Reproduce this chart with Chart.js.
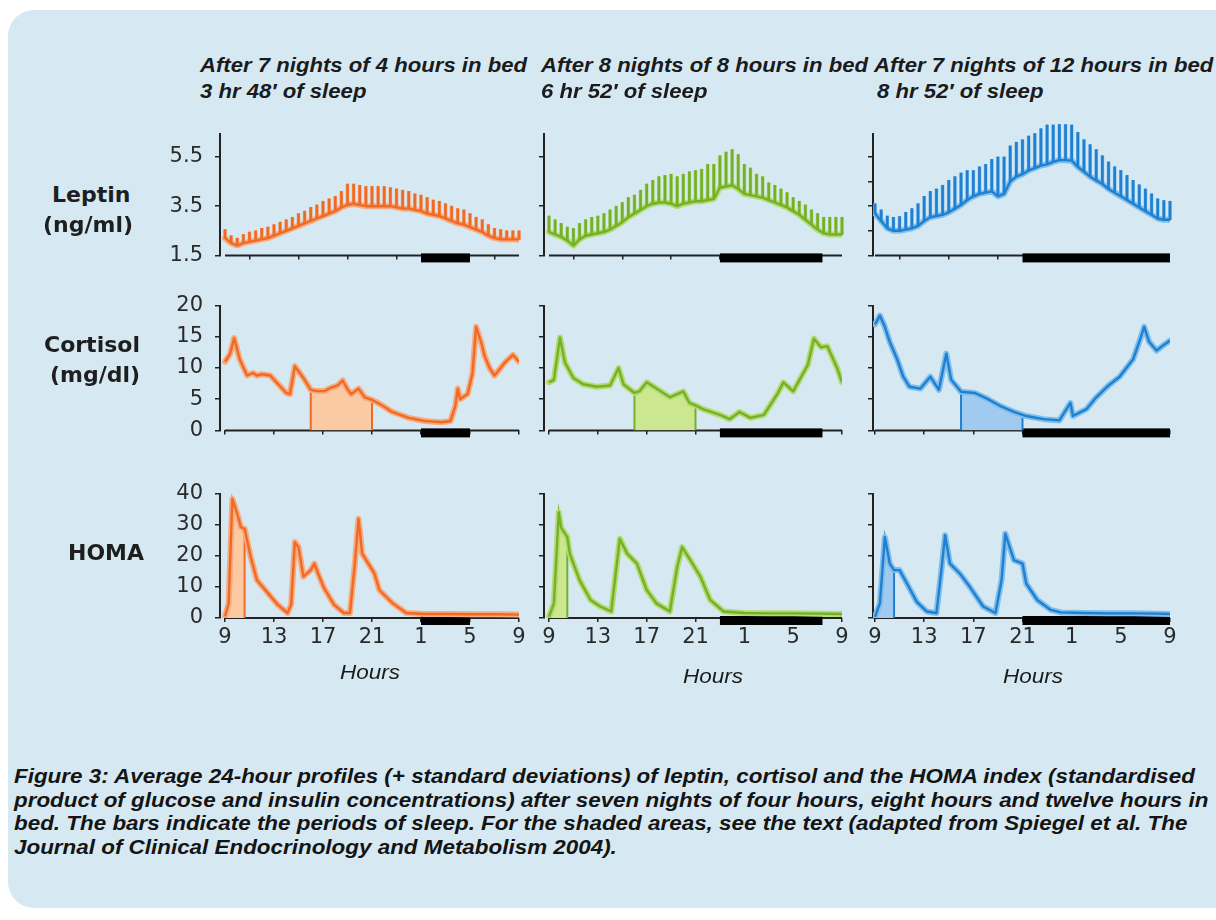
<!DOCTYPE html>
<html><head><meta charset="utf-8">
<script src="https://cdn.jsdelivr.net/npm/chart.js@4.4.1/dist/chart.umd.min.js"></script>
<style>
html,body{margin:0;padding:0;background:#fff;width:1216px;height:920px;overflow:hidden;position:relative;}
#panel{position:absolute;left:8px;top:10px;width:1250px;height:898px;background:#d6e9f3;border-radius:26px;}
canvas.cv{position:absolute;}
.txt{position:absolute;white-space:nowrap;color:#1b1b1b;transform-origin:0 0;}
.title{font-family:"Liberation Sans",Arial,sans-serif;font-style:italic;font-weight:bold;font-size:21px;}
.row{font-family:"DejaVu Sans",sans-serif;font-weight:bold;font-size:22px;color:#1e1e1e;}
.hours{font-family:"Liberation Sans",Arial,sans-serif;font-style:italic;font-size:20px;}
.cap{font-family:"Liberation Sans",Arial,sans-serif;font-style:italic;font-weight:bold;font-size:19.5px;color:#141414;}
</style></head><body>
<div id="panel"></div>
<script>
// ---------- DATA ----------
const HOUR_TICKS = [0, 4, 8, 12, 16, 20, 24];
const HOUR_LABELS = ['9', '13', '17', '21', '1', '5', '9'];
const LEPTIN_TICKS_2 = [1.5, 3.5, 5.5];
const LEPTIN_TICKS_1 = [1.5, 2.5, 3.5, 4.5, 5.5];
const CORTISOL_TICKS = [0, 5, 10, 15, 20];
const HOMA_TICKS = [0, 10, 20, 30, 40];

const LEPTIN_T = [0,0.5,1,1.5,2,2.5,3,3.5,4,4.5,5,5.5,6,6.5,7,7.5,8,8.5,9,9.5,10,10.5,11,11.5,12,12.5,13,13.5,14,14.5,15,15.5,16,16.5,17,17.5,18,18.5,19,19.5,20,20.5,21,21.5,22,22.5,23,23.5,24];
const LEPTIN_4H = [2.2,2.0,1.9,2.0,2.05,2.1,2.15,2.2,2.3,2.4,2.5,2.6,2.7,2.8,2.9,3.0,3.1,3.2,3.3,3.45,3.55,3.6,3.55,3.5,3.5,3.5,3.5,3.5,3.45,3.4,3.4,3.35,3.3,3.2,3.15,3.1,3.0,2.9,2.8,2.75,2.65,2.55,2.45,2.3,2.2,2.15,2.15,2.15,2.15];
const LEPTIN_4H_SD = [.35,.3,.3,.35,.4,.4,.45,.45,.45,.45,.45,.45,.5,.5,.55,.55,.6,.6,.6,.65,.85,.8,.8,.8,.8,.8,.8,.75,.75,.75,.7,.65,.65,.65,.6,.6,.6,.6,.6,.6,.55,.5,.5,.45,.4,.4,.35,.35,.35];
const LEPTIN_8H = [2.45,2.35,2.25,2.1,1.9,2.15,2.3,2.35,2.4,2.45,2.55,2.7,2.85,3.05,3.2,3.35,3.5,3.6,3.65,3.65,3.6,3.5,3.6,3.65,3.7,3.7,3.75,3.8,4.25,4.3,4.35,4.2,4.0,3.95,3.9,3.85,3.75,3.65,3.55,3.45,3.3,3.15,2.95,2.75,2.55,2.4,2.35,2.35,2.35];
const LEPTIN_8H_SD = [.65,.6,.55,.55,.7,.65,.65,.7,.7,.75,.8,.8,.8,.8,.75,.8,.9,.95,1.05,1.1,1.2,1.2,1.2,1.25,1.25,1.3,1.45,1.4,1.3,1.4,1.45,1.4,1.2,1.1,.9,.85,.7,.7,.65,.6,.55,.55,.6,.6,.65,.65,.7,.7,.7];
const LEPTIN_12H = [3.2,2.9,2.6,2.5,2.5,2.55,2.6,2.7,2.9,3.05,3.1,3.15,3.25,3.4,3.55,3.75,3.9,4.0,4.05,4.1,3.9,4.0,4.5,4.7,4.8,4.95,5.05,5.15,5.2,5.3,5.37,5.37,5.35,5.1,4.9,4.7,4.55,4.4,4.2,4.05,3.9,3.75,3.6,3.45,3.3,3.15,3.0,2.95,2.95];
const LEPTIN_12H_SD = [.4,.45,.5,.55,.58,.7,.8,.9,1.0,1.05,1.1,1.2,1.3,1.3,1.3,1.2,1.05,1.1,1.15,1.3,1.6,1.5,1.45,1.4,1.4,1.4,1.4,1.5,1.6,1.5,1.45,1.45,1.45,1.4,1.3,1.3,1.25,1.15,1.1,1.05,1.05,1.0,.95,.92,.9,.85,.8,.78,.75];

const CORT_4H_T = [0,0.4,0.75,1.2,1.8,2.3,2.6,3.0,3.7,4.2,5.0,5.3,5.7,6.4,7.0,7.5,8.1,8.6,9.2,9.6,10.0,10.3,10.9,11.4,12.0,12.3,13.0,13.6,14.3,15.0,16.3,17.0,17.7,18.4,18.8,19.0,19.2,19.4,19.8,20.2,20.5,20.9,21.2,21.6,22.0,22.5,22.9,23.5,24.0];
const CORT_4H = [11.0,12.2,14.8,11.4,8.8,9.2,8.8,9.0,8.8,7.7,6.0,5.8,10.3,8.4,6.5,6.3,6.3,6.8,7.2,8.0,6.6,5.8,6.7,5.3,4.9,4.6,3.8,3.0,2.5,2.0,1.5,1.4,1.3,1.5,3.9,6.7,5.0,5.3,5.8,9.1,16.6,14.2,11.9,10.0,8.8,10.0,11.0,12.1,11.0];
const CORT_8H_T = [0,0.4,0.9,1.3,2.0,2.8,3.9,5.0,5.7,6.1,7.0,7.4,8.0,8.8,9.9,11.0,11.5,12.0,12.6,14.0,14.8,15.6,16.5,17.6,18.7,19.2,20.0,21.2,21.7,22.3,22.8,23.6,24.0];
const CORT_8H = [7.7,8.1,14.9,10.9,8.4,7.4,7.0,7.2,10.0,7.4,6.0,6.25,7.7,6.7,5.3,6.25,4.4,4.0,3.4,2.5,1.8,2.96,2.0,2.5,5.8,7.7,6.25,10.5,14.7,13.3,13.5,10.0,7.7];
const CORT_12H_T = [0,0.4,0.8,1.2,1.8,2.3,2.8,3.7,4.5,5.2,5.8,6.2,7.0,8.1,9.1,10.2,11.3,12.0,12.3,13.7,15.0,15.9,16.1,17.2,18.0,19.0,19.9,21.0,21.5,21.9,22.3,22.9,23.5,24.0];
const CORT_12H = [17.0,18.4,16.6,14.2,11.4,8.6,7.0,6.7,8.6,6.5,12.3,8.1,6.2,6.0,5.1,3.9,2.96,2.5,2.3,1.8,1.6,4.4,2.3,3.4,5.3,7.2,8.6,11.4,14.2,16.6,14.2,12.8,13.7,14.4];

const HOMA_4H_T = [0,0.3,0.6,1.0,1.3,1.6,2.1,2.6,3.5,4.3,5.1,5.4,5.7,6.0,6.4,7.0,7.3,7.6,8.1,8.9,9.7,10.2,10.6,10.9,11.2,12.2,12.6,13.7,14.8,16.3,18,20,22,24];
const HOMA_4H = [0.5,4.7,38.3,33.5,29.2,28.7,19.6,12.2,8.0,4.3,1.6,4.3,24.4,22.8,13.3,15.4,17.5,14.3,9.5,4.3,1.6,1.6,17.5,31.9,20.7,14.3,9.0,4.7,1.6,1.3,1.3,1.2,1.2,1.1];
const HOMA_8H_T = [0,0.4,0.8,1.0,1.5,1.7,2.5,3.4,4.2,5.1,5.4,5.8,6.4,7.2,8.0,8.8,9.9,10.5,10.9,11.5,12.4,13.2,14.3,16,18,20,22,24];
const HOMA_8H = [0.4,4.7,34,29,26,20.7,12.2,5.8,3.7,2.1,12.2,25.5,20.7,17.5,9.0,4.7,2.1,16.4,22.8,19.1,13.3,5.8,2.1,1.6,1.5,1.5,1.4,1.3];
const HOMA_12H_T = [0,0.4,0.8,1.2,1.55,2.0,2.6,3.4,4.2,5.0,5.4,5.7,6.1,6.9,7.7,8.8,9.8,10.3,10.6,11.3,12.0,12.3,13.2,14.3,15.1,17,19,21,23,24];
const HOMA_12H = [0.4,4.7,26,17.5,15.4,15.4,11.1,5.2,2.1,1.6,15.4,26.6,17.5,14.3,10.1,3.7,1.6,12.2,27.1,18.6,17.5,11.1,5.8,2.6,1.8,1.6,1.5,1.5,1.4,1.3];

const SLEEP_4H = [16, 20];
const SLEEP_8H = [14, 22.4];
const SLEEP_12H = [12, 24];
const CORT_SHADE = [7, 12];
const HOMA_SHADE_4H = [0, 1.6];
const HOMA_SHADE_8H = [0, 1.5];
const HOMA_SHADE_12H = [0, 1.55];

// ---------- STYLE / LAYOUT ----------
const COLORS = [
  {main:'#ef6a24', halo:'#f7ab80', fill:'#fbcaa2'},
  {main:'#74b02e', halo:'#b4dc6c', fill:'#cbe790'},
  {main:'#1f7fd0', halo:'#80bfec', fill:'#a0caef'}
];
const COLS = [
  {axis:220, x0:225, x24:519},
  {axis:544, x0:549, x24:842},
  {axis:873, x0:875, x24:1170}
];
const ROWS = [
  {top:133, bottom:266, min:1.5, max:6.45},
  {top:305, bottom:441, min:0, max:20},
  {top:493, bottom:618, min:0, max:40}
];

Chart.defaults.font.family = '"DejaVu Sans", sans-serif';

const axisPlugin = {
  id: 'axisSleep',
  beforeDatasetsDraw(chart, args, opts) {
    const {ctx, chartArea, scales} = chart;
    const x = scales.x, b = chartArea.bottom;
    ctx.save();
    ctx.strokeStyle = '#222'; ctx.lineWidth = 2;
    ctx.beginPath(); ctx.moveTo(x.getPixelForValue(0), b); ctx.lineTo(x.getPixelForValue(24), b); ctx.stroke();
    ctx.fillStyle = '#000';
    const x1 = x.getPixelForValue(opts.range[0]), x2 = x.getPixelForValue(opts.range[1]);
    ctx.fillRect(x1, b - 2, x2 - x1, 9);
    ctx.restore();
  }
};

function lineSets(T, V, c) {
  const pts = T.map((t, i) => ({x: t, y: V[i]}));
  return [
    {type:'line', data:pts, borderColor:c.halo, borderWidth:6, pointRadius:0, tension:0, order:5, borderJoinStyle:'round', borderCapStyle:'round'},
    {type:'line', data:pts, borderColor:c.main, borderWidth:2.4, pointRadius:0, tension:0, order:1, borderJoinStyle:'round'}
  ];
}
function sdSets(T, M, SD, c) {
  const pts = T.map((t, i) => ({x: t, y: [M[i], M[i] + SD[i]]}));
  return [
    {type:'bar', data:pts, backgroundColor:c.halo, barThickness:3, grouped:false, order:4, clip:false},
    {type:'bar', data:pts, backgroundColor:c.main, barThickness:2, grouped:false, order:2, clip:false}
  ];
}
function shadeSet(T, V, range, c) {
  const [a, b] = range;
  const pts = [{x: a, y: 0}];
  T.forEach((t, i) => { if (t >= a && t <= b) pts.push({x: t, y: V[i]}); });
  pts.push({x: b, y: 0});
  return {type:'line', data:pts, borderColor:c.main, borderWidth:2, backgroundColor:c.fill, fill:'origin', pointRadius:0, tension:0, order:6};
}

function makeChart(col, row, datasets, sleep, yTicks) {
  const C = COLS[col], R = ROWS[row];
  const pxPerH = (C.x24 - C.x0) / 24;
  const xmin = -(C.x0 - C.axis) / pxPerH;
  const yW = col === 0 ? 80 : 12;
  const padR = 14, padT = 24;
  const xH = row === 2 ? 50 : 14;
  const cv = document.createElement('canvas');
  cv.className = 'cv';
  const w = yW + (C.x24 - C.axis) + padR;
  const h = padT + (R.bottom - R.top) + xH;
  cv.width = w; cv.height = h;
  cv.style.left = (C.axis - yW) + 'px';
  cv.style.top = (R.top - padT) + 'px';
  cv.style.width = w + 'px'; cv.style.height = h + 'px';
  document.body.appendChild(cv);
  new Chart(cv, {
    type: 'line',
    data: {datasets},
    plugins: [axisPlugin],
    options: {
      responsive: false, animation: false, devicePixelRatio: 1,
      layout: {padding: {left: 0, right: padR, top: padT, bottom: 0}},
      plugins: {legend: {display: false}, tooltip: {enabled: false}, axisSleep: {range: sleep}},
      scales: {
        x: {
          type: 'linear', min: xmin, max: 24, offset: false,
          afterFit: s => { s.height = xH; },
          afterBuildTicks: s => { s.ticks = HOUR_TICKS.map(v => ({value: v})); },
          grid: {display: true, drawOnChartArea: false, drawTicks: true, tickLength: 4, color: '#222', lineWidth: 1.5},
          border: {display: false},
          ticks: {
            autoSkip: false, maxRotation: 0, padding: 3, color: '#2a2a2a', font: {size: 21},
            callback: v => row === 2 ? HOUR_LABELS[HOUR_TICKS.indexOf(v)] : ''
          }
        },
        y: {
          type: 'linear', min: R.min, max: R.max,
          afterFit: s => { s.width = yW; },
          afterBuildTicks: s => { s.ticks = yTicks.map(v => ({value: v})); },
          grid: {display: true, drawOnChartArea: false, drawTicks: true, tickLength: 5, color: '#222', lineWidth: 1.5},
          border: {display: true, color: '#222', width: 2},
          ticks: {
            autoSkip: false, padding: 12, color: '#2a2a2a', font: {size: 21},
            callback: v => col === 0 ? (row === 0 ? v.toFixed(1) : String(v)) : ''
          }
        }
      }
    }
  });
}

const LEPTIN = [[LEPTIN_4H, LEPTIN_4H_SD], [LEPTIN_8H, LEPTIN_8H_SD], [LEPTIN_12H, LEPTIN_12H_SD]];
const CORT = [[CORT_4H_T, CORT_4H], [CORT_8H_T, CORT_8H], [CORT_12H_T, CORT_12H]];
const HOMA = [[HOMA_4H_T, HOMA_4H], [HOMA_8H_T, HOMA_8H], [HOMA_12H_T, HOMA_12H]];
const SLEEP = [SLEEP_4H, SLEEP_8H, SLEEP_12H];
const HOMA_SHADE = [HOMA_SHADE_4H, HOMA_SHADE_8H, HOMA_SHADE_12H];

for (let c = 0; c < 3; c++) {
  const col = COLORS[c];
  makeChart(c, 0, [...lineSets(LEPTIN_T, LEPTIN[c][0], col), ...sdSets(LEPTIN_T, LEPTIN[c][0], LEPTIN[c][1], col)],
            SLEEP[c], c === 2 ? LEPTIN_TICKS_1 : LEPTIN_TICKS_2);
  makeChart(c, 1, [shadeSet(CORT[c][0], CORT[c][1], CORT_SHADE, col), ...lineSets(CORT[c][0], CORT[c][1], col)],
            SLEEP[c], CORTISOL_TICKS);
  makeChart(c, 2, [shadeSet(HOMA[c][0], HOMA[c][1], HOMA_SHADE[c], col), ...lineSets(HOMA[c][0], HOMA[c][1], col)],
            SLEEP[c], HOMA_TICKS);
}

// ---------- TEXT ----------
function addText(cls, str, left, baseline) {
  const el = document.createElement('div');
  el.className = 'txt ' + cls;
  el.textContent = str;
  el.style.left = left + 'px'; el.style.top = '0px';
  document.body.appendChild(el);
  const probe = document.createElement('span');
  probe.style.cssText = 'display:inline-block;width:0;height:0;vertical-align:baseline;';
  el.appendChild(probe);
  const off = probe.offsetTop;
  el.removeChild(probe);
  el.style.top = (baseline - off) + 'px';
  return el;
}
function fit(els, ref, target) {
  const s = target / ref.getBoundingClientRect().width;
  els.forEach(e => { e.style.transform = 'scaleX(' + s + ')'; });
}

const t1 = [
  addText('title', 'After 7 nights of 4 hours in bed', 200, 72),
  addText('title', '3 hr 48′ of sleep', 200, 98),
  addText('title', 'After 8 nights of 8 hours in bed', 541, 72),
  addText('title', '6 hr 52′ of sleep', 541, 98),
  addText('title', 'After 7 nights of 12 hours in bed', 874, 72),
  addText('title', '8 hr 52′ of sleep', 877, 98)
];
fit(t1, t1[0], 327);

addText('row', 'Leptin', 52, 202);
addText('row', '(ng/ml)', 43, 232);
addText('row', 'Cortisol', 44, 352);
addText('row', '(mg/dl)', 50, 382);
addText('row', 'HOMA', 68, 560);

const hrs = [addText('hours', 'Hours', 340, 679), addText('hours', 'Hours', 683, 683), addText('hours', 'Hours', 1003, 683)];
fit(hrs, hrs[0], 60);

const cap = [
  addText('cap', 'Figure 3: Average 24-hour profiles (+ standard deviations) of leptin, cortisol and the HOMA  index (standardised', 14, 783),
  addText('cap', 'product of glucose and insulin concentrations) after seven nights of four hours, eight hours and twelve hours in', 14, 806.5),
  addText('cap', 'bed. The bars indicate the periods of sleep. For the shaded areas, see the text (adapted from Spiegel et al. The', 14, 830),
  addText('cap', 'Journal of Clinical Endocrinology and Metabolism 2004).', 14, 853.5)
];
fit(cap, cap[0], 1181);
</script>
</body></html>
